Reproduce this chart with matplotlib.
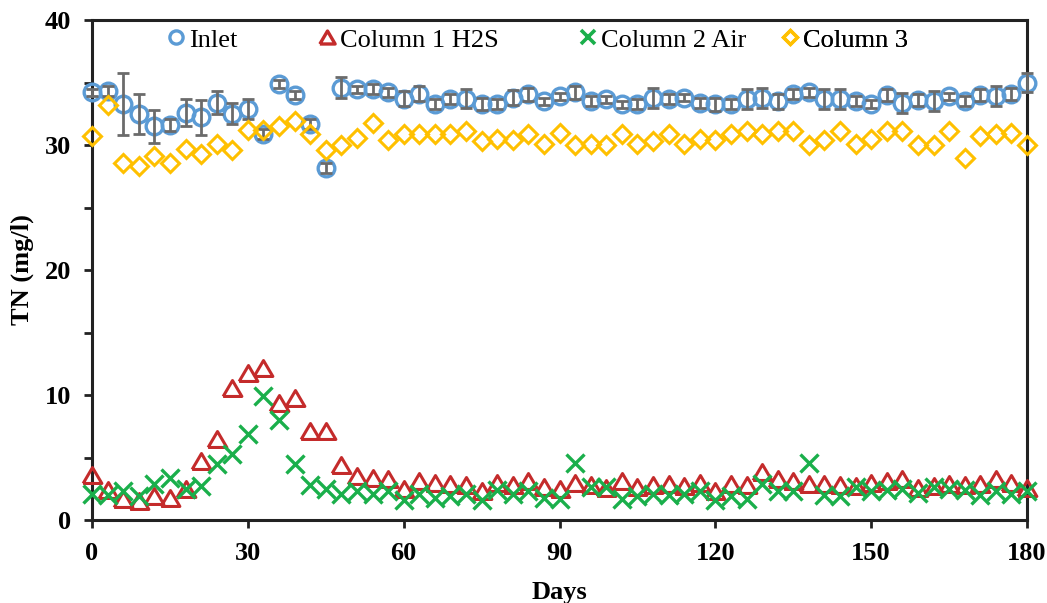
import matplotlib
matplotlib.use("Agg")
import matplotlib.pyplot as plt
from matplotlib.markers import MarkerStyle
from matplotlib.lines import Line2D
import numpy as np

days = list(range(0, 181, 3))

inlet = [34.2, 34.3, 33.3, 32.5, 31.5, 31.6, 32.6, 32.2, 33.4, 32.5,
         32.9, 30.9, 34.9, 34.0, 31.7, 28.2, 34.6, 34.45, 34.45, 34.2,
         33.7, 34.1, 33.3, 33.7, 33.7, 33.3, 33.3, 33.8, 34.05, 33.5,
         33.9, 34.2, 33.5, 33.65, 33.25, 33.3, 33.8, 33.7, 33.8, 33.4,
         33.25, 33.3, 33.7, 33.8, 33.5, 34.05, 34.2, 33.7, 33.65, 33.5,
         33.3, 34.0, 33.4, 33.6, 33.5, 33.9, 33.5, 34.0, 33.9, 34.1,
         35.0]

inlet_err = [0.3, 0.4, 2.5, 1.6, 1.3, 0.5, 1.1, 1.4, 0.9, 0.85,
             0.8, 0.4, 0.3, 0.3, 0.4, 0.4, 0.85, 0.3, 0.4, 0.4,
             0.6, 0.6, 0.4, 0.4, 0.75, 0.5, 0.4, 0.6, 0.5, 0.3,
             0.3, 0.5, 0.4, 0.3, 0.3, 0.4, 0.8, 0.4, 0.3, 0.4,
             0.5, 0.4, 0.8, 0.8, 0.6, 0.4, 0.4, 0.8, 0.8, 0.4,
             0.3, 0.5, 0.8, 0.5, 0.8, 0.3, 0.4, 0.5, 0.8, 0.5,
             0.8]

col1_h2s = [3.6, 2.4, 1.7, 1.5, 1.95, 1.8, 2.5, 4.7, 6.5, 10.6,
            11.8, 12.2, 9.4, 9.8, 7.1, 7.1, 4.4, 3.55, 3.4, 3.3,
            2.5, 3.1, 3.0, 2.9, 2.8, 2.35, 3.0, 2.8, 3.15, 2.65,
            2.45, 3.0, 2.8, 2.6, 3.1, 2.65, 2.8, 2.9, 2.7, 3.0,
            2.35, 2.9, 2.8, 3.85, 3.3, 3.15, 2.85, 2.9, 2.8, 2.75,
            3.0, 3.15, 3.3, 2.6, 2.75, 2.9, 2.8, 2.9, 3.3, 3.0,
            2.6]

col2_air = [2.1, 2.0, 2.3, 1.9, 2.9, 3.4, 2.5, 2.75, 4.5, 5.3,
            6.9, 9.9, 8.0, 4.5, 2.8, 2.5, 2.1, 2.35, 2.1, 2.35,
            1.6, 2.1, 1.8, 1.9, 2.1, 1.6, 2.4, 2.1, 2.3, 1.8,
            1.65, 4.6, 2.65, 2.65, 1.65, 1.9, 2.1, 2.0, 2.1, 2.35,
            1.6, 1.9, 1.7, 2.9, 2.35, 2.35, 4.6, 2.0, 1.9, 2.65,
            2.3, 2.4, 2.5, 2.2, 2.65, 2.5, 2.4, 2.0, 2.3, 2.1,
            2.35]

col3 = [30.7, 33.2, 28.6, 28.3, 29.1, 28.6, 29.65, 29.3, 30.1, 29.6,
        31.2, 31.2, 31.5, 31.9, 30.9, 29.6, 30.0, 30.6, 31.8, 30.4,
        30.9, 30.9, 30.9, 30.9, 31.1, 30.35, 30.45, 30.4, 30.9, 30.1,
        31.0, 30.0, 30.1, 30.0, 30.9, 30.1, 30.35, 30.9, 30.1, 30.45,
        30.4, 30.9, 31.1, 30.9, 31.1, 31.1, 30.0, 30.4, 31.1, 30.1,
        30.45, 31.1, 31.1, 30.0, 30.0, 31.1, 29.0, 30.7, 30.9, 31.0,
        30.0]

labels = ["Inlet", "Column 1 H2S", "Column 2 Air", "Column 3"]
x_ticks = [0, 30, 60, 90, 120, 150, 180]
y_ticks = [0, 10, 20, 30, 40]

C_BLUE = "#5B9BD5"
C_RED = "#C42B2B"
C_GREEN = "#1AAF4B"
C_GOLD = "#FFC000"
C_GRAY = "#6B6B6B"

serif = ["Liberation Serif", "DejaVu Serif"]
plt.rcParams["font.family"] = serif
FS = 19

fig = plt.figure(figsize=(10.47, 6.03), dpi=100)
ax = fig.add_axes([92 / 1047, 83 / 603, 935 / 1047, 500 / 603])

tri = MarkerStyle([(-1, -0.85), (1, -0.85), (0, 0.85), (-1, -0.85)], joinstyle="miter")
dia = MarkerStyle("D", joinstyle="miter")

ax.plot(days, inlet, linestyle="none", marker="o", ms=12, mew=2.4,
        mec=C_BLUE, mfc="none", zorder=3, clip_on=False)
ax.errorbar(days, inlet, yerr=inlet_err, fmt="none", ecolor=C_GRAY,
            elinewidth=2.0, capsize=4.2, capthick=2.0, zorder=4, clip_on=False)
ax.plot(days, col1_h2s, linestyle="none", marker=tri, ms=13.5, mew=2.2,
        mec=C_RED, mfc="none", zorder=3, clip_on=False)
ax.plot(days, col2_air, linestyle="none", marker="x", ms=13, mew=2.4,
        mec=C_GREEN, zorder=4, clip_on=False)
ax.plot(days, col3, linestyle="none", marker=dia, ms=9.2, mew=2.2,
        mec=C_GOLD, mfc="none", zorder=5, clip_on=False)

ax.set_xlim(0, 180)
ax.set_ylim(0, 40)
ax.set_xticks(x_ticks)
ax.set_yticks(y_ticks)
ax.set_yticks([5, 15, 25, 35], minor=True)
ax.set_xticklabels([str(v) for v in x_ticks], fontsize=FS, fontweight="bold")
ax.set_yticklabels([str(v) for v in y_ticks], fontsize=FS, fontweight="bold")
ax.tick_params(axis="both", which="both", direction="out", length=6, width=2.0,
               color="#222222")
ax.tick_params(axis="x", pad=10)
ax.tick_params(axis="y", pad=9)
ax.tick_params(right=False, top=False)
for s in ax.spines.values():
    s.set_linewidth(2.2)
    s.set_color("#222222")

ax.set_xlabel("Days", fontsize=FS, fontweight="bold", labelpad=11)
ax.set_ylabel("TN (mg/l)", fontsize=FS, fontweight="bold", labelpad=8)

handles = [
    Line2D([], [], linestyle="none", marker="o", ms=9.5, mew=2.4, mec=C_BLUE, mfc="none"),
    Line2D([], [], linestyle="none", marker=tri, ms=11, mew=2.4, mec=C_RED, mfc="none"),
    Line2D([], [], linestyle="none", marker="x", ms=10, mew=2.6, mec=C_GREEN),
    Line2D([], [], linestyle="none", marker=dia, ms=7.5, mew=2.4, mec=C_GOLD, mfc="none"),
]
anchors = [(168 - 92) / 935, (319 - 92) / 935, (580 - 92) / 935, (782 - 92) / 935]
for h, lab, xa in zip(handles, labels, anchors):
    lg = ax.legend([h], [lab], loc="center left", bbox_to_anchor=(xa, 0.96),
                   frameon=False, fontsize=FS, handlelength=0.6,
                   handletextpad=0.2, borderpad=0, borderaxespad=0)
    ax.add_artist(lg)

fig.savefig("out.png", dpi=100)
